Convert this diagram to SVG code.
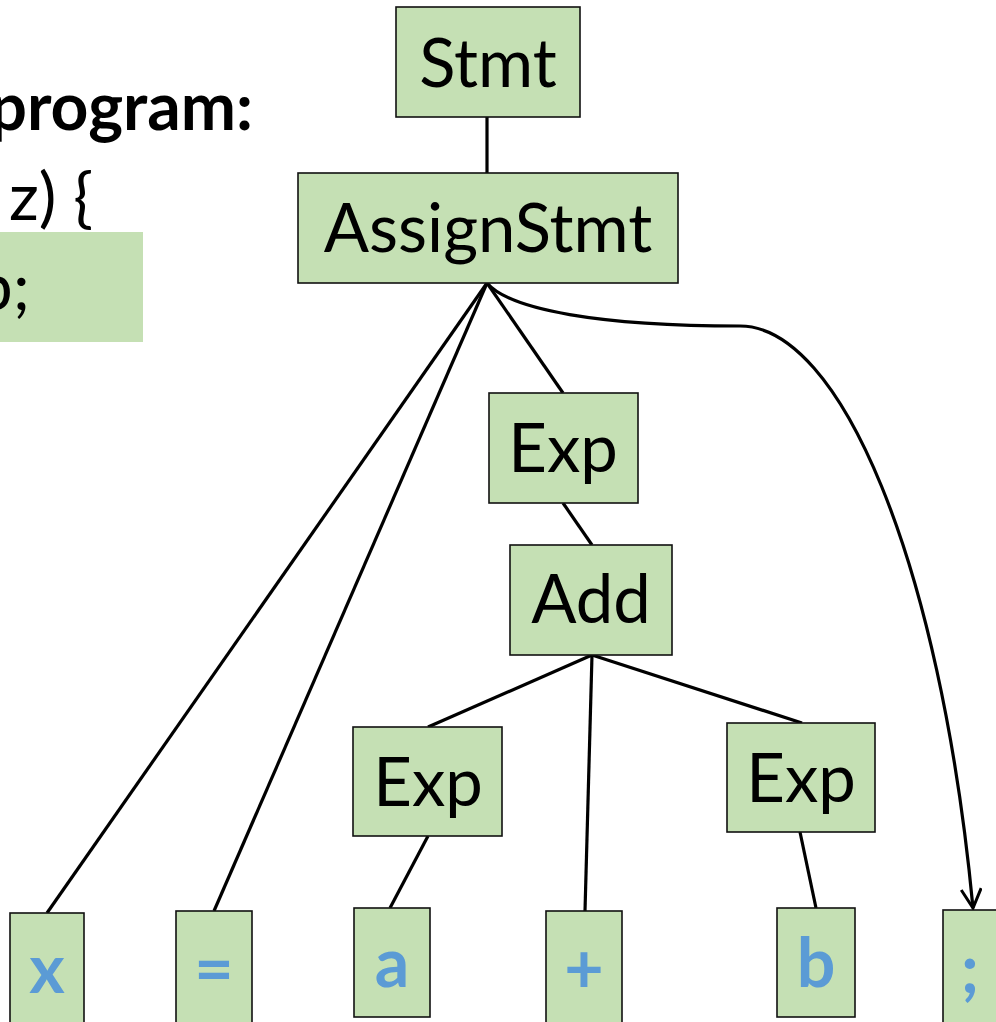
<svg xmlns="http://www.w3.org/2000/svg" width="996" height="1022" viewBox="0 0 996 1022">
<defs>
<style>
.box{fill:#c5e0b4;stroke:#111;stroke-width:1.6}
.lbl{font-family:Lato,"Liberation Sans",sans-serif;font-size:67px;fill:#000;text-anchor:middle}
.tok{font-family:Lato,"Liberation Sans",sans-serif;font-size:68px;font-weight:bold;fill:#5b9bd5;text-anchor:middle}
.code{font-family:Lato,"Liberation Sans",sans-serif;font-size:66px;fill:#000}
.edge{fill:none;stroke:#000;stroke-width:3.2}
</style>
<marker id="arr" markerWidth="24" markerHeight="24" refX="20" refY="11" orient="auto" markerUnits="userSpaceOnUse">
<polyline points="1,1 20,11 1,21" fill="none" stroke="#000" stroke-width="3"/>
</marker>
</defs>
<rect width="996" height="1022" fill="#fff"/>
<g id="code">
<rect x="-5" y="232" width="148" height="110" fill="#c5e0b4"/>
<text class="code" x="253" y="130" text-anchor="end" font-weight="bold">program:</text>
<text class="code" x="9" y="220">z) {</text>
<text class="code" x="30" y="310" text-anchor="end">b;</text>
</g>
<g id="connectors">
<line class="edge" x1="487" y1="117" x2="487" y2="173"/>
<line class="edge" x1="487" y1="283" x2="47" y2="913"/>
<line class="edge" x1="487" y1="283" x2="214" y2="911"/>
<line class="edge" x1="487" y1="283" x2="563" y2="393"/>
<path class="edge" d="M487,283 C510,310 600,326 740,326 C840,326 940,560 973,908" marker-end="url(#arr)"/>
<line class="edge" x1="563" y1="503" x2="592" y2="545"/>
<line class="edge" x1="592" y1="655" x2="428" y2="727"/>
<line class="edge" x1="592" y1="655" x2="585" y2="911"/>
<line class="edge" x1="592" y1="655" x2="802" y2="723"/>
<line class="edge" x1="428" y1="836" x2="390" y2="908"/>
<line class="edge" x1="800" y1="832" x2="816" y2="908"/>
</g>
<g id="n-stmt"><rect class="box" x="396" y="7" width="184" height="110"/><text class="lbl" x="488" y="87">Stmt</text></g>
<g id="n-assign"><rect class="box" x="298" y="173" width="380" height="110"/><text class="lbl" x="488" y="252">AssignStmt</text></g>
<g id="n-exp"><rect class="box" x="489" y="393" width="149" height="110"/><text class="lbl" x="563" y="472">Exp</text></g>
<g id="n-add"><rect class="box" x="510" y="545" width="162" height="110"/><text class="lbl" x="591" y="623">Add</text></g>
<g id="n-expl"><rect class="box" x="353" y="727" width="149" height="109"/><text class="lbl" x="428" y="806">Exp</text></g>
<g id="n-expr"><rect class="box" x="727" y="723" width="148" height="109"/><text class="lbl" x="801" y="802">Exp</text></g>
<g id="t-x"><rect class="box" x="10" y="913" width="74" height="115"/><text class="tok" x="47" y="993">x</text></g>
<g id="t-eq"><rect class="box" x="176" y="911" width="76" height="115"/><text class="tok" x="214" y="993">=</text></g>
<g id="t-a"><rect class="box" x="354" y="908" width="76" height="109"/><text class="tok" x="392" y="987">a</text></g>
<g id="t-plus"><rect class="box" x="546" y="911" width="76" height="115"/><text class="tok" x="584" y="993">+</text></g>
<g id="t-b"><rect class="box" x="777" y="908" width="78" height="109"/><text class="tok" x="816" y="987">b</text></g>
<g id="t-semi"><rect class="box" x="943" y="910" width="60" height="115"/><text class="tok" x="970" y="993">;</text></g>
</svg>
